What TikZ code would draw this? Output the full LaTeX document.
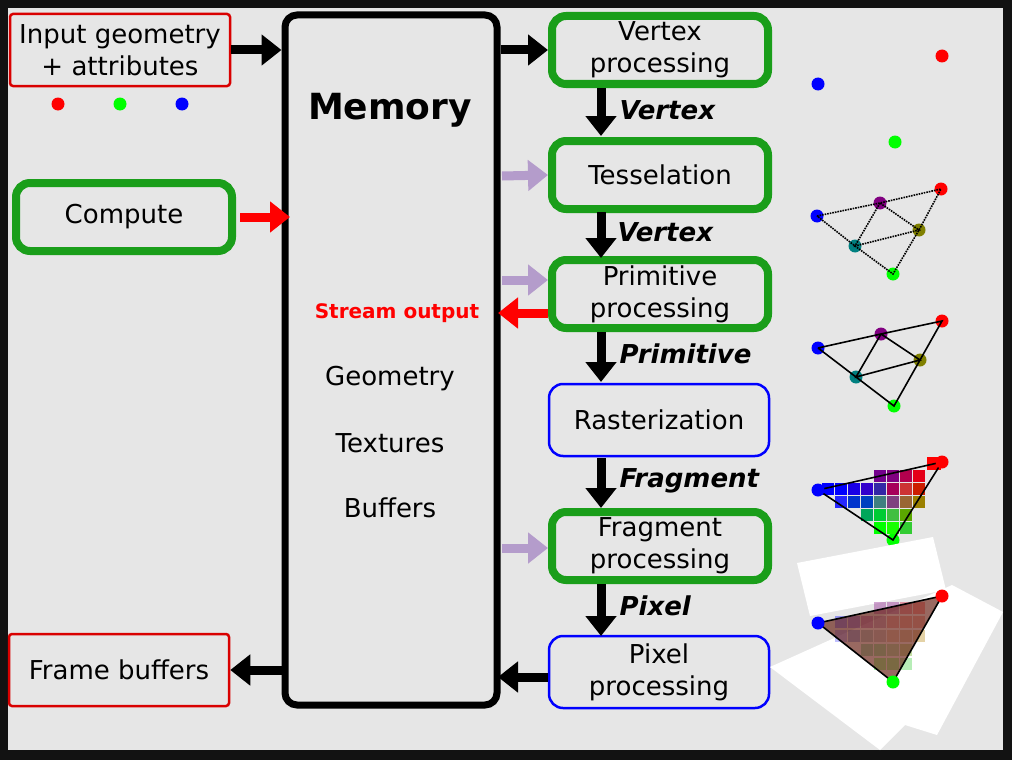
\documentclass[tikz,border=0pt]{standalone}
\usepackage{fontspec}
\setmainfont{DejaVu Sans}
\usetikzlibrary{arrows.meta}
\definecolor{bg}{HTML}{E6E6E6}
\definecolor{gbox}{HTML}{1A9E1A}
\definecolor{lilac}{HTML}{B49CCB}
\definecolor{olivec}{HTML}{808000}
\definecolor{tealc}{HTML}{008080}
\definecolor{purp}{HTML}{800080}
\begin{document}
\begin{tikzpicture}[x=1pt,y=-1pt,
  every node/.style={font=\fontsize{26}{32}\selectfont, align=center},
  gbx/.style={draw=gbox, line width=8pt, rounded corners=14pt, fill=bg, minimum width=216pt, minimum height=68pt, inner sep=0pt},
  bbx/.style={draw=blue, line width=2.5pt, rounded corners=14pt, fill=bg, minimum width=220pt, minimum height=72pt, inner sep=0pt},
  rbx/.style={draw=red!85!black, line width=2.5pt, rounded corners=3pt, fill=bg, minimum width=220pt, minimum height=72pt, inner sep=0pt},
  arr/.style={line width=9pt, -{Triangle[length=20pt,width=30pt]}},
  lab/.style={font=\fontsize{26}{32}\selectfont\bfseries\itshape, anchor=west},
  dot/.style={circle, fill=#1, inner sep=0pt, minimum size=13pt},
  edge/.style={black, line width=1.6pt}]
\fill[black!93] (0,0) rectangle (1012,760);
\fill[bg] (8,8) rectangle (1003,750);
\useasboundingbox (0,0) rectangle (1012,760);
% memory
\node[draw, line width=7pt, rounded corners=12pt, minimum width=212pt, minimum height=690pt, fill=bg] (mem) at (391,360) {};
\node[font=\fontsize{36}{42}\selectfont\bfseries] (memt) at (390,110) {Memory};
\node[text=red, font=\fontsize{20}{24}\selectfont\bfseries] (so) at (397,313) {Stream output};
\node (geo) at (390,379) {Geometry};
\node (tex) at (390,443) {Textures};
\node (buf) at (390,508) {Buffers};
% left
\node[rbx] (in) at (120,50) {Input geometry\\+ attributes};
\node[dot=red] (d1) at (58,104) {};
\node[dot=green] (d2) at (120,104) {};
\node[dot=blue] (d3) at (182,104) {};
\node[gbx] (comp) at (124,217) {Compute};
\node[rbx] (fb) at (119,670) {Frame buffers};
% right column
\node[gbx] (vp) at (660,50) {Vertex\\processing};
\node[gbx] (ts) at (660,175) {Tesselation};
\node[gbx] (pp) at (660,294) {Primitive\\processing};
\node[bbx] (ra) at (659,420) {Rasterization};
\node[gbx] (fp) at (660,546) {Fragment\\processing};
\node[bbx] (px) at (659,672) {Pixel\\processing};
% vertical arrows
\draw[arr] (601,88) -- (601,136);
\draw[arr] (601,212) -- (601,258);
\draw[arr] (601,332) -- (601,382);
\draw[arr] (601,458) -- (601,508);
\draw[arr] (601,584) -- (601,636);
\node[lab] (l1) at (616,110) {Vertex};
\node[lab] (l2) at (614,232) {Vertex};
\node[lab] (l3) at (616,354) {Primitive};
\node[lab] (l4) at (616,481) {Fragment};
\node[lab] (l5) at (616,606) {Pixel};
% horizontal arrows
\draw[arr] (in.east) -- (mem.west |- in.east);
\draw[arr] (mem.east |- vp.west) -- (vp.west);
\draw[arr, red] (comp.east) ++(4,0) -- (290,217);
\draw[arr, lilac] (502,176) -- (ts.west);
\draw[arr, lilac] (502,280) -- (pp.west |- 0,280);
\draw[arr, lilac] (502,548) -- (fp.west |- 0,548);
\draw[arr, red] (pp.west |- so) -- (498,313);
\draw[arr] (px.west |- 0,677) -- (498,677);
\draw[arr] (mem.west |- fb.east) -- (fb.east);
% vertex dots
\node[dot=blue] (v1) at (818,84) {};
\node[dot=red] (v2) at (942,56) {};
\node[dot=green] (v3) at (895,142) {};
% tesselation
\node[dot=blue] (t1) at (817,216) {};
\node[dot=purp] (t2) at (880,203) {};
\node[dot=red] (t3) at (941,189) {};
\node[dot=olivec] (t4) at (919,230) {};
\node[dot=tealc] (t5) at (855,246) {};
\node[dot=green] (t6) at (893,274) {};
\draw[edge, densely dotted] (t1.center)--(t2.center)--(t3.center)--(t4.center)--(t6.center)--(t5.center)--(t1.center) (t2.center)--(t5.center)--(t4.center)--(t2.center);
% primitive
\node[dot=blue] (p1) at (818,348) {};
\node[dot=purp] (p2) at (881,334) {};
\node[dot=red] (p3) at (942,321) {};
\node[dot=olivec] (p4) at (920,360) {};
\node[dot=tealc] (p5) at (856,377) {};
\node[dot=green] (p6) at (894,406) {};
\draw[edge] (p1.center)--(p2.center)--(p3.center)--(p4.center)--(p6.center)--(p5.center)--(p1.center) (p2.center)--(p5.center)--(p4.center)--(p2.center);
% raster
\node[dot=green] (r3) at (893,540) {};
\foreach \x/\y/\c in {
 880/476/{purp!90!blue}, 893/476/{purp}, 906/476/{purp!60!red}, 919/476/{red!80!purp},
 828/489/{blue}, 841/489/{blue}, 854/489/{blue!80!purp}, 867/489/{blue!60!purp}, 880/489/{blue!50!tealc!60!purp}, 893/489/{purp!70!red}, 906/489/{red!60!gray}, 919/489/{red!70!orange!80!black},
 841/502/{blue!85!white}, 854/502/{blue!60!tealc}, 867/502/{blue!50!tealc}, 880/502/{tealc!50!gray}, 893/502/{purp!50!gray}, 906/502/{brown!80!black}, 919/502/{olivec!80!orange},
 867/515/{tealc!70!green}, 880/515/{green!60!tealc}, 893/515/{green!50!gray}, 906/515/{olivec!70!green},
 880/528/{green}, 893/528/{green!90!yellow}, 906/528/{green!60!gray}}
  {\fill[\c] (\x-6,\y-6) rectangle (\x+6,\y+6);}
\fill[red] (927,457) rectangle (941,470);
\draw[edge] (818,490) -- (942,462) -- (893,540) -- cycle;
\node[dot=blue] (r1) at (818,490) {};
\node[dot=red] (r2) at (942,462) {};
% pixel
\fill[white] (797,563) -- (933,537) -- (946,590) -- (810,616) -- cycle;
\fill[white] (770,667) -- (952,585) -- (1003,612) -- (937,735) -- (905,725) -- (880,750) -- cycle;
\foreach \x/\y/\c in {
 880/608/{purp}, 893/608/{purp}, 906/608/{red!70!purp}, 919/608/{red},
 841/622/{blue}, 854/622/{blue!70!purp}, 867/622/{purp}, 880/622/{purp!60!gray}, 893/622/{red!60!gray}, 906/622/{red!60!brown}, 919/622/{red!50!brown},
 841/636/{blue!70!white}, 854/636/{blue!50!tealc}, 867/636/{tealc!50!gray}, 880/636/{gray}, 893/636/{brown}, 906/636/{brown!70!olivec}, 919/636/{olivec!60!orange},
 867/650/{tealc!60!green}, 880/650/{green!60!tealc}, 893/650/{green!50!gray}, 906/650/{olivec!70!green},
 880/664/{green}, 893/664/{green}, 906/664/{green!60!gray}}
  {\fill[\c, opacity=0.35] (\x-6,\y-6) rectangle (\x+6,\y+6);}
\fill[black!70!red!80!brown, opacity=0.65] (818,623) -- (942,596) -- (893,682) -- cycle;
\draw[edge] (818,623) -- (942,596) -- (893,682) -- cycle;
\node[dot=blue] (x1) at (818,623) {};
\node[dot=red] (x2) at (942,596) {};
\node[dot=green] (x3) at (893,682) {};
\end{tikzpicture}
\end{document}
